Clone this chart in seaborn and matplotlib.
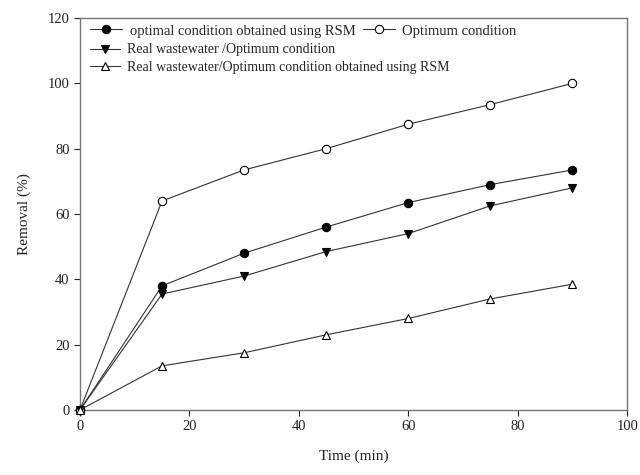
import pandas as pd
import seaborn as sns
from matplotlib import pyplot as plt
from matplotlib.lines import Line2D

time = [0, 15, 30, 45, 60, 75, 90]
rsm_opt = [0, 38, 48, 56, 63.5, 69, 73.5]
optimum = [0, 64, 73.5, 80, 87.5, 93.5, 100]
real_opt = [0, 35.5, 41, 48.5, 54, 62.5, 68]
real_rsm = [0, 13.5, 17.5, 23, 28, 34, 38.5]

labels = ["optimal condition obtained using RSM", "Optimum condition",
          "Real wastewater /Optimum condition",
          "Real wastewater/Optimum condition obtained using RSM"]
markers = ["o", "o", "v", "^"]
faces = ["black", "white", "black", "white"]

sns.set_style("ticks")
plt.rcParams["font.family"] = ["Liberation Serif", "DejaVu Serif"]

df = pd.DataFrame({"time": time * 4,
                   "removal": rsm_opt + optimum + real_opt + real_rsm,
                   "series": [l for l in labels for _ in time]})

fig = plt.figure(figsize=(6.4, 4.75), dpi=100)
ax = fig.add_axes([0.125, 0.137, 0.855, 0.825])

handles = []
for lab, m, fc in zip(labels, markers, faces):
    sub = df[df["series"] == lab]
    sns.lineplot(data=sub, x="time", y="removal", ax=ax, color="#333333",
                 lw=0.8, marker=m, markersize=6, markerfacecolor=fc,
                 markeredgecolor="black", markeredgewidth=0.8, legend=False,
                 clip_on=False, zorder=3)
    handles.append(Line2D([], [], color="#333333", lw=0.8, marker=m, markersize=6,
                          markerfacecolor=fc, markeredgecolor="black",
                          markeredgewidth=0.8))

ax.set_xlim(0, 100)
ax.set_ylim(0, 120)
ax.set_xticks(range(0, 101, 20))
ax.set_yticks(range(0, 121, 20))
ax.tick_params(direction="out", length=4, width=0.8, labelsize=10.5, colors="#222222")
for s in ax.spines.values():
    s.set_color("#777777")
    s.set_linewidth(1.0)
ax.set_xlabel("Time (min)", fontsize=11, labelpad=12)
ax.set_ylabel("Removal (%)", fontsize=11, labelpad=12)

leg1 = ax.legend(handles[:2], labels[:2], loc="upper left", ncol=2, frameon=False,
                 fontsize=10.5, bbox_to_anchor=(0.0, 1.01), handlelength=2.2,
                 handletextpad=0.5, columnspacing=0.5, borderaxespad=0.3)
ax.add_artist(leg1)
ax.legend(handles[2:], labels[2:], loc="upper left", frameon=False,
          fontsize=10, bbox_to_anchor=(0.0, 0.96), handlelength=2.2,
          handletextpad=0.5, labelspacing=0.3, borderaxespad=0.3)

fig.savefig("out.png", dpi=100)
